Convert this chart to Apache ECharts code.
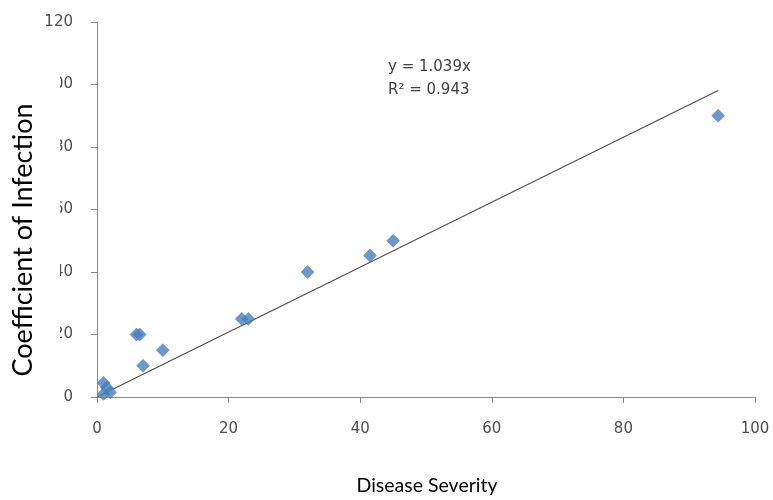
<!DOCTYPE html>
<html>
<head>
<meta charset="utf-8">
<script src="https://cdn.jsdelivr.net/npm/echarts@6/dist/echarts.min.js"></script>
<style>
html,body{margin:0;padding:0;background:#fff;}
#chart{width:773px;height:500px;}
</style>
</head>
<body>
<div id="chart"></div>
<script>
// Disease severity (x) and coefficient of infection (y)
var severity = [1, 1.5, 1, 2, 6, 6.5, 7, 10, 22, 23, 32, 41.5, 45, 94.4];
var infection = [4.5, 3, 1, 1.5, 20, 20, 10, 15, 25, 25, 40, 45.3, 50, 90];
// Linear trendline through origin: y = 1.039x
var trendX = [0, 94.4];
var trendY = [0, 98.1];
var equationLines = ['y = 1.039x', 'R\u00B2 = 0.943'];
var xTicks = [0, 20, 40, 60, 80, 100];
var yTicks = [0, 20, 40, 60, 80, 100, 120];

var pts = severity.map(function (x, i) { return [x, infection[i]]; });
var trend = trendX.map(function (x, i) { return [x, trendY[i]]; });

var chart = echarts.init(document.getElementById('chart'), null, {renderer: 'canvas'});
var labelFont = 'DejaVu Sans';
chart.setOption({
  animation: false,
  backgroundColor: '#fff',
  grid: {left: 97, right: 18, top: 22, bottom: 103, containLabel: false},
  xAxis: {
    type: 'value', min: xTicks[0], max: xTicks[xTicks.length - 1], interval: 20,
    splitLine: {show: false},
    axisLine: {lineStyle: {color: '#8a8a8a', width: 1}},
    axisTick: {show: true, length: 6, lineStyle: {color: '#8a8a8a'}},
    axisLabel: {margin: 25, color: '#4d4d4d', fontFamily: labelFont, fontSize: 15}
  },
  yAxis: {
    type: 'value', min: yTicks[0], max: yTicks[yTicks.length - 1], interval: 20,
    splitLine: {show: false},
    axisLine: {show: true, lineStyle: {color: '#8a8a8a', width: 1}},
    axisTick: {show: true, length: 6, lineStyle: {color: '#8a8a8a'}},
    axisLabel: {margin: 24, color: '#4d4d4d', fontFamily: labelFont, fontSize: 15}
  },
  graphic: [
    {type: 'rect', z: 100, shape: {x: 4, y: 32, width: 56, height: 356}, style: {fill: '#fff'}},
    {type: 'text', z: 101, x: 23, y: 240, rotation: Math.PI / 2,
     style: {text: 'Coefficient of Infection', fill: '#000', font: '27px Lato', align: 'center', verticalAlign: 'middle'}},
    {type: 'text', z: 101, x: 427, y: 486,
     style: {text: 'Disease Severity', fill: '#000', font: '19.5px Lato', align: 'center', verticalAlign: 'middle'}},
    {type: 'text', z: 101, x: 388, y: 56,
     style: {text: equationLines.join('\n'), fill: '#404040', font: '15px "DejaVu Sans"', lineHeight: 23, align: 'left', verticalAlign: 'top'}}
  ],
  series: [
    {
      type: 'line', data: trend, showSymbol: false, symbol: 'none',
      lineStyle: {color: '#4f4f4f', width: 1.2}, z: 2, silent: true
    },
    {
      type: 'scatter', data: pts, symbol: 'diamond', symbolSize: 13,
      itemStyle: {color: '#4A7EBB', borderColor: '#3f6fa8', borderWidth: 0.5}, z: 3
    }
  ]
});
</script>
</body>
</html>
